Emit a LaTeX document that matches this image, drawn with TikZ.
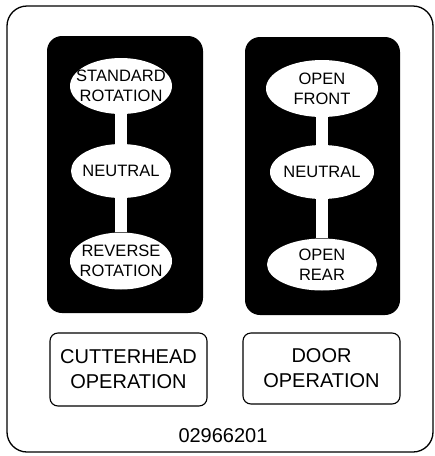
\documentclass[tikz,border=0pt]{standalone}
\usepackage{fontspec}
\setmainfont{Liberation Sans}
\usetikzlibrary{shapes.geometric}

\tikzset{
  panel/.style={fill=black, rounded corners=15pt},
  lever/.style={ellipse, fill=white, inner sep=0pt},
  levertext/.style={align=center, inner sep=0pt, font=\fontsize{16.5}{20}\selectfont},
  bar/.style={white, line width=12pt},
  plate/.style={draw, line width=1.1pt, rounded corners=8pt, minimum width=157pt, align=center, font=\fontsize{20}{25}\selectfont}
}

\begin{document}
\begin{tikzpicture}[x=1pt, y=-1pt]
                \useasboundingbox (0,0) rectangle (435,456);
                \draw [line width=1.3pt, rounded corners=20pt] (7,6) rectangle (433,452);
                % switch panels
                \fill [panel] (47,36) rectangle (203,313);
                \fill [panel] (245,37) rectangle (400,315);
                % cutterhead switch
                \node [lever, minimum width=102pt, minimum height=56pt] (std) at (121,86) {};
                \node [lever, minimum width=100pt, minimum height=54pt] (neuA) at (121,171) {};
                \node [lever, minimum width=102pt, minimum height=57pt] (rev) at (121,261) {};
                \draw [bar] (std) -- (neuA);
                \draw [bar] (neuA) -- (rev);
                \node [levertext] (stdT) at (std) {STANDARD\\ROTATION};
                \node [levertext] (neuAT) at (neuA) {NEUTRAL};
                \node [levertext] (revT) at (rev) {REVERSE\\ROTATION};
                % door switch
                \node [lever, minimum width=112pt, minimum height=57pt] (front) at (322,88.5) {};
                \node [lever, minimum width=104pt, minimum height=54pt] (neuB) at (322,172) {};
                \node [lever, minimum width=110pt, minimum height=52pt] (rear) at (322,264.5) {};
                \draw [bar] (front) -- (neuB);
                \draw [bar] (neuB) -- (rear);
                \node [levertext] (frontT) at (front) {OPEN\\FRONT};
                \node [levertext] (neuBT) at (neuB) {NEUTRAL};
                \node [levertext] (rearT) at (rear) {OPEN\\REAR};
                % captions
                \node [plate, minimum height=73pt] (cutter) at (128.5,369.5) {CUTTERHEAD\\OPERATION};
                \node [plate, minimum height=71pt] (door) at (321.5,368.5) {DOOR\\OPERATION};
                \node [font=\fontsize{20}{24}\selectfont, inner sep=0pt] (code) at (223,435.5) {02966201};
            \end{tikzpicture}
\end{document}
